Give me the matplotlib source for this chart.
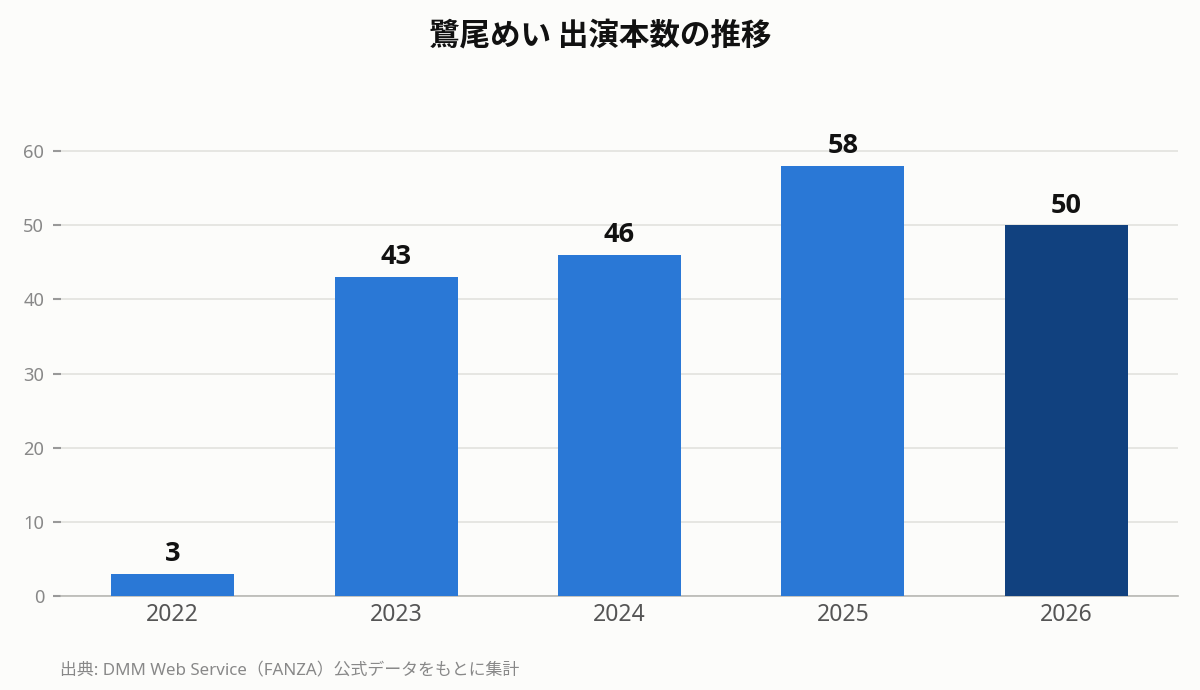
import matplotlib
matplotlib.use("Agg")
import matplotlib.pyplot as plt

plt.rcParams['font.family'] = ['Noto Sans', 'Noto Sans CJK JP', 'DejaVu Sans']

years = ["2022", "2023", "2024", "2025", "2026"]
counts = [3, 43, 46, 58, 50]
bar_colors = ["#2a78d6", "#2a78d6", "#2a78d6", "#2a78d6", "#11417f"]
yticks = [0, 10, 20, 30, 40, 50, 60]
title = "鷺尾めい 出演本数の推移"
source = "出典: DMM Web Service（FANZA）公式データをもとに集計"

bg = "#fcfcfa"
fig = plt.figure(figsize=(12, 6.9), dpi=100, facecolor=bg)
ax = fig.add_axes([0.0508, 0.1362, 0.9309, 0.6986])
ax.set_facecolor(bg)

x = list(range(len(years)))
bars = ax.bar(x, counts, width=0.55, color=bar_colors, zorder=3)
for xi, v in zip(x, counts):
    ax.text(xi, v + 0.9, str(v), ha="center", va="bottom", fontsize=19.5,
            fontweight="bold", color="#111111", zorder=4,
            family=['Open Sans', 'DejaVu Sans'])

ax.set_xlim(-0.5, len(years) - 0.5)
ax.set_ylim(0, 65)
ax.set_xticks(x)
ax.set_xticklabels(years, fontsize=16.5, color="#555555")
ax.set_yticks(yticks)
ax.set_yticklabels([str(t) for t in yticks], fontsize=13.2, color="#888888")
ax.tick_params(axis="x", length=0, pad=5)
ax.tick_params(axis="y", length=6, width=1.5, color="#999999", pad=6)
ax.grid(axis="y", color="#e2e2de", linewidth=1.2, zorder=0)
for s in ["top", "right", "left"]:
    ax.spines[s].set_visible(False)
ax.spines["bottom"].set_color("#b8b8b4")
ax.spines["bottom"].set_linewidth(1.2)

fig.text(0.5, 0.949, title, ha="center", va="center", fontsize=22,
         fontweight="bold", color="#111111",
         family=['Noto Sans CJK JP', 'DejaVu Sans'])
fig.text(0.05, 0.027, source, ha="left", va="center", fontsize=12.2,
         color="#888888")

fig.savefig("out.png", dpi=100, facecolor=bg)
